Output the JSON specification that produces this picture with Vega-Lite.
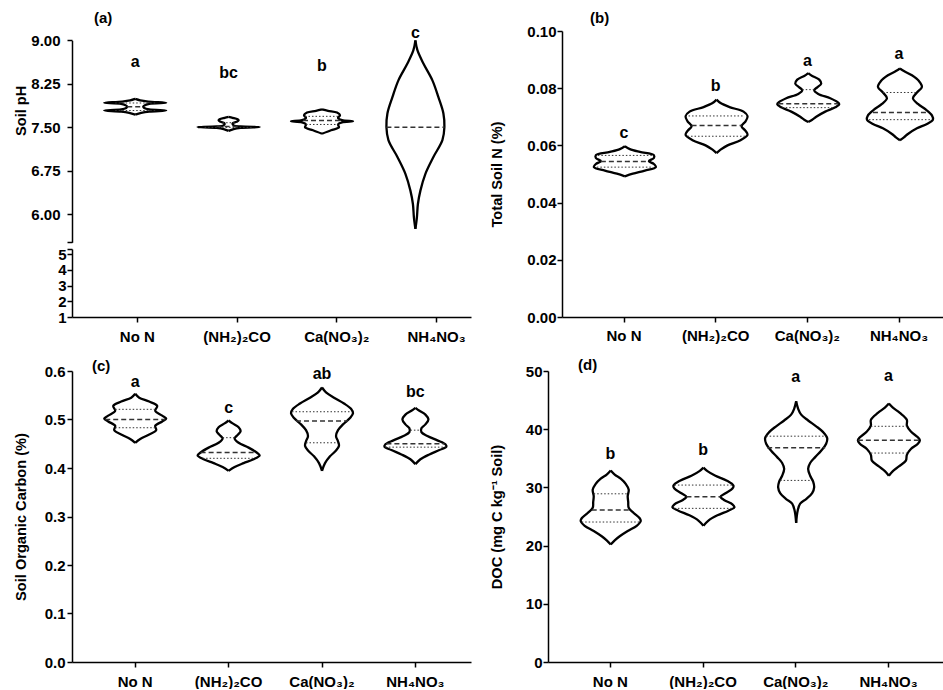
{
"$schema": "https://vega.github.io/schema/vega-lite/v6.json",
"padding": {"left": 13, "top": 10, "right": 0, "bottom": 0},
"background": "white",
"config": {
"view": {"stroke": null},
"font": "Liberation Sans",
"axis": {"labelFont": "Liberation Sans", "labelFontSize": 15, "labelFontWeight": "bold", "labelColor": "black", "titleFont": "Liberation Sans", "titleFontSize": 14.6, "titleFontWeight": "bold", "titleColor": "black", "domainColor": "black", "domainWidth": 1.5, "tickColor": "black", "tickWidth": 1.5, "tickSize": 5, "grid": false, "labelOverlap": false},
"axisX": {"labelAngle": 0, "labelPadding": 6},
"axisY": {"titlePadding": 0, "labelFlush": false},
"title": {"font": "Liberation Sans", "fontSize": 15, "fontWeight": "bold", "color": "black", "anchor": "start", "frame": "group"}
},
"datasets": {
"a": [
{"c":"No N","k":"o","v":7.99,"l":0,"r":0},
{"c":"No N","k":"o","v":7.965,"l":-5,"r":5},
{"c":"No N","k":"o","v":7.945,"l":-13,"r":13},
{"c":"No N","k":"o","v":7.925,"l":-31,"r":31},
{"c":"No N","k":"o","v":7.905,"l":-14,"r":14},
{"c":"No N","k":"o","v":7.875,"l":-9,"r":9},
{"c":"No N","k":"o","v":7.855,"l":-8,"r":8},
{"c":"No N","k":"o","v":7.835,"l":-9,"r":9},
{"c":"No N","k":"o","v":7.81,"l":-14,"r":14},
{"c":"No N","k":"o","v":7.79,"l":-31,"r":31},
{"c":"No N","k":"o","v":7.772,"l":-14,"r":14},
{"c":"No N","k":"o","v":7.75,"l":-6,"r":6},
{"c":"No N","k":"o","v":7.72,"l":0,"r":0},
{"c":"No N","k":"q","v":7.92,"l":-20,"r":20},
{"c":"No N","k":"q","v":7.79,"l":-20,"r":20},
{"c":"No N","k":"m","v":7.855,"l":-8,"r":8},
{"c":"No N","k":"t","v":8.63,"t":"a"},
{"c":"(NH₂)₂CO","k":"o","v":7.68,"l":0,"r":0},
{"c":"(NH₂)₂CO","k":"o","v":7.665,"l":-4,"r":4},
{"c":"(NH₂)₂CO","k":"o","v":7.64,"l":-9,"r":9},
{"c":"(NH₂)₂CO","k":"o","v":7.62,"l":-10,"r":10},
{"c":"(NH₂)₂CO","k":"o","v":7.595,"l":-8,"r":8},
{"c":"(NH₂)₂CO","k":"o","v":7.57,"l":-4,"r":4},
{"c":"(NH₂)₂CO","k":"o","v":7.535,"l":-5,"r":5},
{"c":"(NH₂)₂CO","k":"o","v":7.515,"l":-12,"r":12},
{"c":"(NH₂)₂CO","k":"o","v":7.505,"l":-31,"r":31},
{"c":"(NH₂)₂CO","k":"o","v":7.49,"l":-12,"r":12},
{"c":"(NH₂)₂CO","k":"o","v":7.47,"l":-5,"r":5},
{"c":"(NH₂)₂CO","k":"o","v":7.44,"l":0,"r":0},
{"c":"(NH₂)₂CO","k":"q","v":7.58,"l":-6,"r":6},
{"c":"(NH₂)₂CO","k":"q","v":7.5,"l":-24,"r":24},
{"c":"(NH₂)₂CO","k":"m","v":7.515,"l":-12,"r":12},
{"c":"(NH₂)₂CO","k":"t","v":8.43,"t":"bc"},
{"c":"Ca(NO₃)₂","k":"o","v":7.81,"l":0,"r":0},
{"c":"Ca(NO₃)₂","k":"o","v":7.785,"l":-6,"r":6},
{"c":"Ca(NO₃)₂","k":"o","v":7.755,"l":-15,"r":15},
{"c":"Ca(NO₃)₂","k":"o","v":7.71,"l":-18,"r":18},
{"c":"Ca(NO₃)₂","k":"o","v":7.66,"l":-16,"r":16},
{"c":"Ca(NO₃)₂","k":"o","v":7.625,"l":-20,"r":20},
{"c":"Ca(NO₃)₂","k":"o","v":7.605,"l":-31,"r":31},
{"c":"Ca(NO₃)₂","k":"o","v":7.585,"l":-20,"r":20},
{"c":"Ca(NO₃)₂","k":"o","v":7.55,"l":-16,"r":16},
{"c":"Ca(NO₃)₂","k":"o","v":7.5,"l":-17,"r":17},
{"c":"Ca(NO₃)₂","k":"o","v":7.45,"l":-9,"r":9},
{"c":"Ca(NO₃)₂","k":"o","v":7.39,"l":0,"r":0},
{"c":"Ca(NO₃)₂","k":"q","v":7.69,"l":-17,"r":17},
{"c":"Ca(NO₃)₂","k":"q","v":7.55,"l":-16,"r":16},
{"c":"Ca(NO₃)₂","k":"m","v":7.62,"l":-19,"r":19},
{"c":"Ca(NO₃)₂","k":"t","v":8.55,"t":"b"},
{"c":"NH₄NO₃","k":"o","v":9.0,"l":0,"r":0},
{"c":"NH₄NO₃","k":"o","v":8.83,"l":-2,"r":2},
{"c":"NH₄NO₃","k":"o","v":8.6,"l":-8,"r":8},
{"c":"NH₄NO₃","k":"o","v":8.31,"l":-17,"r":17},
{"c":"NH₄NO₃","k":"o","v":8.02,"l":-23,"r":23},
{"c":"NH₄NO₃","k":"o","v":7.74,"l":-28,"r":28},
{"c":"NH₄NO₃","k":"o","v":7.505,"l":-29,"r":29},
{"c":"NH₄NO₃","k":"o","v":7.28,"l":-27,"r":27},
{"c":"NH₄NO₃","k":"o","v":6.99,"l":-18,"r":18},
{"c":"NH₄NO₃","k":"o","v":6.7,"l":-10,"r":10},
{"c":"NH₄NO₃","k":"o","v":6.41,"l":-5,"r":5},
{"c":"NH₄NO₃","k":"o","v":6.18,"l":-2.5,"r":2.5},
{"c":"NH₄NO₃","k":"o","v":5.95,"l":-1.5,"r":1.5},
{"c":"NH₄NO₃","k":"o","v":5.75,"l":0,"r":0},
{"c":"NH₄NO₃","k":"m","v":7.5,"l":-29,"r":29},
{"c":"NH₄NO₃","k":"t","v":9.13,"t":"c"}
],
"b": [
{"c":"No N","k":"o","v":0.0597,"l":0,"r":0},
{"c":"No N","k":"o","v":0.0587,"l":-5,"r":5},
{"c":"No N","k":"o","v":0.0577,"l":-15,"r":15},
{"c":"No N","k":"o","v":0.0566,"l":-29,"r":29},
{"c":"No N","k":"o","v":0.0556,"l":-29,"r":29},
{"c":"No N","k":"o","v":0.0545,"l":-24,"r":24},
{"c":"No N","k":"o","v":0.0535,"l":-29,"r":29},
{"c":"No N","k":"o","v":0.0524,"l":-31,"r":31},
{"c":"No N","k":"o","v":0.0512,"l":-20,"r":20},
{"c":"No N","k":"o","v":0.0501,"l":-8,"r":8},
{"c":"No N","k":"o","v":0.0492,"l":0,"r":0},
{"c":"No N","k":"q","v":0.0565,"l":-27,"r":27},
{"c":"No N","k":"q","v":0.0524,"l":-28,"r":28},
{"c":"No N","k":"m","v":0.0544,"l":-24,"r":24},
{"c":"No N","k":"t","v":0.0643,"t":"c"},
{"c":"(NH₂)₂CO","k":"o","v":0.076,"l":0,"r":0},
{"c":"(NH₂)₂CO","k":"o","v":0.0748,"l":-4,"r":4},
{"c":"(NH₂)₂CO","k":"o","v":0.0734,"l":-13,"r":13},
{"c":"(NH₂)₂CO","k":"o","v":0.0718,"l":-27,"r":27},
{"c":"(NH₂)₂CO","k":"o","v":0.0702,"l":-31,"r":31},
{"c":"(NH₂)₂CO","k":"o","v":0.0684,"l":-29,"r":29},
{"c":"(NH₂)₂CO","k":"o","v":0.0667,"l":-25,"r":25},
{"c":"(NH₂)₂CO","k":"o","v":0.0651,"l":-29,"r":29},
{"c":"(NH₂)₂CO","k":"o","v":0.0637,"l":-31,"r":31},
{"c":"(NH₂)₂CO","k":"o","v":0.0618,"l":-24,"r":24},
{"c":"(NH₂)₂CO","k":"o","v":0.06,"l":-11,"r":11},
{"c":"(NH₂)₂CO","k":"o","v":0.0585,"l":-4,"r":4},
{"c":"(NH₂)₂CO","k":"o","v":0.0573,"l":0,"r":0},
{"c":"(NH₂)₂CO","k":"q","v":0.0703,"l":-28,"r":28},
{"c":"(NH₂)₂CO","k":"q","v":0.0632,"l":-29,"r":29},
{"c":"(NH₂)₂CO","k":"m","v":0.067,"l":-25,"r":25},
{"c":"(NH₂)₂CO","k":"t","v":0.0807,"t":"b"},
{"c":"Ca(NO₃)₂","k":"o","v":0.0853,"l":0,"r":0},
{"c":"Ca(NO₃)₂","k":"o","v":0.0843,"l":-4,"r":4},
{"c":"Ca(NO₃)₂","k":"o","v":0.083,"l":-11,"r":11},
{"c":"Ca(NO₃)₂","k":"o","v":0.0816,"l":-13,"r":13},
{"c":"Ca(NO₃)₂","k":"o","v":0.0803,"l":-9,"r":9},
{"c":"Ca(NO₃)₂","k":"o","v":0.0793,"l":-6,"r":6},
{"c":"Ca(NO₃)₂","k":"o","v":0.078,"l":-10,"r":10},
{"c":"Ca(NO₃)₂","k":"o","v":0.0765,"l":-22,"r":22},
{"c":"Ca(NO₃)₂","k":"o","v":0.0752,"l":-29,"r":29},
{"c":"Ca(NO₃)₂","k":"o","v":0.0744,"l":-31,"r":31},
{"c":"Ca(NO₃)₂","k":"o","v":0.0733,"l":-27,"r":27},
{"c":"Ca(NO₃)₂","k":"o","v":0.0718,"l":-17,"r":17},
{"c":"Ca(NO₃)₂","k":"o","v":0.07,"l":-8,"r":8},
{"c":"Ca(NO₃)₂","k":"o","v":0.069,"l":-4,"r":4},
{"c":"Ca(NO₃)₂","k":"o","v":0.0682,"l":0,"r":0},
{"c":"Ca(NO₃)₂","k":"q","v":0.0795,"l":-6,"r":6},
{"c":"Ca(NO₃)₂","k":"q","v":0.0732,"l":-26,"r":26},
{"c":"Ca(NO₃)₂","k":"m","v":0.0746,"l":-30,"r":30},
{"c":"Ca(NO₃)₂","k":"t","v":0.0895,"t":"a"},
{"c":"NH₄NO₃","k":"o","v":0.0869,"l":0,"r":0},
{"c":"NH₄NO₃","k":"o","v":0.086,"l":-4,"r":4},
{"c":"NH₄NO₃","k":"o","v":0.0845,"l":-12,"r":12},
{"c":"NH₄NO₃","k":"o","v":0.0825,"l":-19,"r":19},
{"c":"NH₄NO₃","k":"o","v":0.0805,"l":-22,"r":22},
{"c":"NH₄NO₃","k":"o","v":0.0785,"l":-17,"r":17},
{"c":"NH₄NO₃","k":"o","v":0.0765,"l":-13,"r":13},
{"c":"NH₄NO₃","k":"o","v":0.0745,"l":-18,"r":18},
{"c":"NH₄NO₃","k":"o","v":0.0725,"l":-26,"r":26},
{"c":"NH₄NO₃","k":"o","v":0.0705,"l":-32,"r":32},
{"c":"NH₄NO₃","k":"o","v":0.069,"l":-33,"r":33},
{"c":"NH₄NO₃","k":"o","v":0.0675,"l":-27,"r":27},
{"c":"NH₄NO₃","k":"o","v":0.066,"l":-17,"r":17},
{"c":"NH₄NO₃","k":"o","v":0.064,"l":-8,"r":8},
{"c":"NH₄NO₃","k":"o","v":0.0628,"l":-4,"r":4},
{"c":"NH₄NO₃","k":"o","v":0.0618,"l":0,"r":0},
{"c":"NH₄NO₃","k":"q","v":0.0785,"l":-17,"r":17},
{"c":"NH₄NO₃","k":"q","v":0.069,"l":-31,"r":31},
{"c":"NH₄NO₃","k":"m","v":0.0715,"l":-27,"r":27},
{"c":"NH₄NO₃","k":"t","v":0.0921,"t":"a"}
],
"c": [
{"c":"No N","k":"o","v":0.553,"l":0,"r":0},
{"c":"No N","k":"o","v":0.545,"l":-4,"r":4},
{"c":"No N","k":"o","v":0.537,"l":-14,"r":14},
{"c":"No N","k":"o","v":0.528,"l":-22,"r":22},
{"c":"No N","k":"o","v":0.518,"l":-20,"r":20},
{"c":"No N","k":"o","v":0.508,"l":-27,"r":27},
{"c":"No N","k":"o","v":0.502,"l":-31,"r":31},
{"c":"No N","k":"o","v":0.496,"l":-27,"r":27},
{"c":"No N","k":"o","v":0.487,"l":-20,"r":20},
{"c":"No N","k":"o","v":0.478,"l":-21,"r":21},
{"c":"No N","k":"o","v":0.468,"l":-13,"r":13},
{"c":"No N","k":"o","v":0.46,"l":-5,"r":5},
{"c":"No N","k":"o","v":0.452,"l":0,"r":0},
{"c":"No N","k":"q","v":0.521,"l":-20,"r":20},
{"c":"No N","k":"q","v":0.483,"l":-20,"r":20},
{"c":"No N","k":"m","v":0.5,"l":-30,"r":30},
{"c":"No N","k":"t","v":0.578,"t":"a"},
{"c":"(NH₂)₂CO","k":"o","v":0.498,"l":0,"r":0},
{"c":"(NH₂)₂CO","k":"o","v":0.492,"l":-4,"r":4},
{"c":"(NH₂)₂CO","k":"o","v":0.484,"l":-10,"r":10},
{"c":"(NH₂)₂CO","k":"o","v":0.476,"l":-12,"r":12},
{"c":"(NH₂)₂CO","k":"o","v":0.468,"l":-9,"r":9},
{"c":"(NH₂)₂CO","k":"o","v":0.461,"l":-6,"r":6},
{"c":"(NH₂)₂CO","k":"o","v":0.452,"l":-10,"r":10},
{"c":"(NH₂)₂CO","k":"o","v":0.442,"l":-20,"r":20},
{"c":"(NH₂)₂CO","k":"o","v":0.432,"l":-28,"r":28},
{"c":"(NH₂)₂CO","k":"o","v":0.426,"l":-31,"r":31},
{"c":"(NH₂)₂CO","k":"o","v":0.418,"l":-25,"r":25},
{"c":"(NH₂)₂CO","k":"o","v":0.41,"l":-15,"r":15},
{"c":"(NH₂)₂CO","k":"o","v":0.402,"l":-6,"r":6},
{"c":"(NH₂)₂CO","k":"o","v":0.394,"l":0,"r":0},
{"c":"(NH₂)₂CO","k":"q","v":0.4625,"l":-6,"r":6},
{"c":"(NH₂)₂CO","k":"q","v":0.42,"l":-26,"r":26},
{"c":"(NH₂)₂CO","k":"m","v":0.432,"l":-28,"r":28},
{"c":"(NH₂)₂CO","k":"t","v":0.524,"t":"c"},
{"c":"Ca(NO₃)₂","k":"o","v":0.566,"l":0,"r":0},
{"c":"Ca(NO₃)₂","k":"o","v":0.556,"l":-4,"r":4},
{"c":"Ca(NO₃)₂","k":"o","v":0.545,"l":-12,"r":12},
{"c":"Ca(NO₃)₂","k":"o","v":0.533,"l":-22,"r":22},
{"c":"Ca(NO₃)₂","k":"o","v":0.522,"l":-29,"r":29},
{"c":"Ca(NO₃)₂","k":"o","v":0.513,"l":-31,"r":31},
{"c":"Ca(NO₃)₂","k":"o","v":0.503,"l":-28,"r":28},
{"c":"Ca(NO₃)₂","k":"o","v":0.49,"l":-21,"r":21},
{"c":"Ca(NO₃)₂","k":"o","v":0.478,"l":-16,"r":16},
{"c":"Ca(NO₃)₂","k":"o","v":0.466,"l":-14,"r":14},
{"c":"Ca(NO₃)₂","k":"o","v":0.455,"l":-16,"r":16},
{"c":"Ca(NO₃)₂","k":"o","v":0.446,"l":-17,"r":17},
{"c":"Ca(NO₃)₂","k":"o","v":0.436,"l":-14,"r":14},
{"c":"Ca(NO₃)₂","k":"o","v":0.424,"l":-8,"r":8},
{"c":"Ca(NO₃)₂","k":"o","v":0.41,"l":-3,"r":3},
{"c":"Ca(NO₃)₂","k":"o","v":0.394,"l":0,"r":0},
{"c":"Ca(NO₃)₂","k":"q","v":0.516,"l":-30,"r":30},
{"c":"Ca(NO₃)₂","k":"q","v":0.452,"l":-16,"r":16},
{"c":"Ca(NO₃)₂","k":"m","v":0.497,"l":-26,"r":26},
{"c":"Ca(NO₃)₂","k":"t","v":0.594,"t":"ab"},
{"c":"NH₄NO₃","k":"o","v":0.524,"l":0,"r":0},
{"c":"NH₄NO₃","k":"o","v":0.518,"l":-4,"r":4},
{"c":"NH₄NO₃","k":"o","v":0.51,"l":-10,"r":10},
{"c":"NH₄NO₃","k":"o","v":0.5,"l":-13,"r":13},
{"c":"NH₄NO₃","k":"o","v":0.49,"l":-10,"r":10},
{"c":"NH₄NO₃","k":"o","v":0.482,"l":-6,"r":6},
{"c":"NH₄NO₃","k":"o","v":0.474,"l":-6,"r":6},
{"c":"NH₄NO₃","k":"o","v":0.466,"l":-12,"r":12},
{"c":"NH₄NO₃","k":"o","v":0.457,"l":-22,"r":22},
{"c":"NH₄NO₃","k":"o","v":0.449,"l":-30,"r":30},
{"c":"NH₄NO₃","k":"o","v":0.444,"l":-31,"r":31},
{"c":"NH₄NO₃","k":"o","v":0.437,"l":-24,"r":24},
{"c":"NH₄NO₃","k":"o","v":0.428,"l":-14,"r":14},
{"c":"NH₄NO₃","k":"o","v":0.418,"l":-5,"r":5},
{"c":"NH₄NO₃","k":"o","v":0.408,"l":0,"r":0},
{"c":"NH₄NO₃","k":"q","v":0.478,"l":-5,"r":5},
{"c":"NH₄NO₃","k":"q","v":0.443,"l":-30,"r":30},
{"c":"NH₄NO₃","k":"m","v":0.45,"l":-29,"r":29},
{"c":"NH₄NO₃","k":"t","v":0.557,"t":"bc"}
],
"d": [
{"c":"No N","k":"o","v":32.9,"l":0,"r":0},
{"c":"No N","k":"o","v":32.2,"l":-4,"r":4},
{"c":"No N","k":"o","v":31.5,"l":-10,"r":10},
{"c":"No N","k":"o","v":30.6,"l":-15,"r":15},
{"c":"No N","k":"o","v":29.6,"l":-18,"r":18},
{"c":"No N","k":"o","v":28.5,"l":-17,"r":17},
{"c":"No N","k":"o","v":27.5,"l":-17.5,"r":17.5},
{"c":"No N","k":"o","v":26.5,"l":-18,"r":18},
{"c":"No N","k":"o","v":25.6,"l":-23,"r":23},
{"c":"No N","k":"o","v":24.7,"l":-29,"r":29},
{"c":"No N","k":"o","v":24.2,"l":-30,"r":30},
{"c":"No N","k":"o","v":23.4,"l":-26,"r":26},
{"c":"No N","k":"o","v":22.5,"l":-17,"r":17},
{"c":"No N","k":"o","v":21.6,"l":-9,"r":9},
{"c":"No N","k":"o","v":20.9,"l":-4,"r":4},
{"c":"No N","k":"o","v":20.2,"l":0,"r":0},
{"c":"No N","k":"q","v":28.9,"l":-17,"r":17},
{"c":"No N","k":"q","v":24.05,"l":-29,"r":29},
{"c":"No N","k":"m","v":26.1,"l":-19,"r":19},
{"c":"No N","k":"t","v":35.8,"t":"b"},
{"c":"(NH₂)₂CO","k":"o","v":33.4,"l":0,"r":0},
{"c":"(NH₂)₂CO","k":"o","v":32.8,"l":-4,"r":4},
{"c":"(NH₂)₂CO","k":"o","v":32.0,"l":-12,"r":12},
{"c":"(NH₂)₂CO","k":"o","v":31.2,"l":-23,"r":23},
{"c":"(NH₂)₂CO","k":"o","v":30.3,"l":-30,"r":30},
{"c":"(NH₂)₂CO","k":"o","v":29.8,"l":-29,"r":29},
{"c":"(NH₂)₂CO","k":"o","v":29.0,"l":-22,"r":22},
{"c":"(NH₂)₂CO","k":"o","v":28.4,"l":-17,"r":17},
{"c":"(NH₂)₂CO","k":"o","v":27.8,"l":-21,"r":21},
{"c":"(NH₂)₂CO","k":"o","v":27.1,"l":-29,"r":29},
{"c":"(NH₂)₂CO","k":"o","v":26.6,"l":-31,"r":31},
{"c":"(NH₂)₂CO","k":"o","v":26.0,"l":-25,"r":25},
{"c":"(NH₂)₂CO","k":"o","v":25.2,"l":-14,"r":14},
{"c":"(NH₂)₂CO","k":"o","v":24.3,"l":-5,"r":5},
{"c":"(NH₂)₂CO","k":"o","v":23.4,"l":0,"r":0},
{"c":"(NH₂)₂CO","k":"q","v":30.4,"l":-29,"r":29},
{"c":"(NH₂)₂CO","k":"q","v":26.4,"l":-29,"r":29},
{"c":"(NH₂)₂CO","k":"m","v":28.4,"l":-17,"r":17},
{"c":"(NH₂)₂CO","k":"t","v":36.4,"t":"b"},
{"c":"Ca(NO₃)₂","k":"o","v":44.8,"l":0,"r":0},
{"c":"Ca(NO₃)₂","k":"o","v":43.5,"l":-2,"r":2},
{"c":"Ca(NO₃)₂","k":"o","v":42.5,"l":-5,"r":5},
{"c":"Ca(NO₃)₂","k":"o","v":41.5,"l":-12,"r":12},
{"c":"Ca(NO₃)₂","k":"o","v":40.5,"l":-20,"r":20},
{"c":"Ca(NO₃)₂","k":"o","v":39.5,"l":-27,"r":27},
{"c":"Ca(NO₃)₂","k":"o","v":38.5,"l":-31,"r":31},
{"c":"Ca(NO₃)₂","k":"o","v":37.5,"l":-30,"r":30},
{"c":"Ca(NO₃)₂","k":"o","v":36.3,"l":-25,"r":25},
{"c":"Ca(NO₃)₂","k":"o","v":35.2,"l":-19,"r":19},
{"c":"Ca(NO₃)₂","k":"o","v":34.2,"l":-14,"r":14},
{"c":"Ca(NO₃)₂","k":"o","v":33.2,"l":-12,"r":12},
{"c":"Ca(NO₃)₂","k":"o","v":32.0,"l":-14,"r":14},
{"c":"Ca(NO₃)₂","k":"o","v":31.0,"l":-17,"r":17},
{"c":"Ca(NO₃)₂","k":"o","v":30.0,"l":-18,"r":18},
{"c":"Ca(NO₃)₂","k":"o","v":29.0,"l":-16,"r":16},
{"c":"Ca(NO₃)₂","k":"o","v":28.0,"l":-10,"r":10},
{"c":"Ca(NO₃)₂","k":"o","v":27.2,"l":-4,"r":4},
{"c":"Ca(NO₃)₂","k":"o","v":26.0,"l":-1.5,"r":1.5},
{"c":"Ca(NO₃)₂","k":"o","v":23.9,"l":0,"r":0},
{"c":"Ca(NO₃)₂","k":"q","v":38.8,"l":-30,"r":30},
{"c":"Ca(NO₃)₂","k":"q","v":31.2,"l":-16,"r":16},
{"c":"Ca(NO₃)₂","k":"m","v":36.8,"l":-29,"r":29},
{"c":"Ca(NO₃)₂","k":"t","v":49.0,"t":"a"},
{"c":"NH₄NO₃","k":"o","v":44.4,"l":0,"r":0},
{"c":"NH₄NO₃","k":"o","v":43.7,"l":-4,"r":4},
{"c":"NH₄NO₃","k":"o","v":42.8,"l":-11,"r":11},
{"c":"NH₄NO₃","k":"o","v":41.6,"l":-18,"r":18},
{"c":"NH₄NO₃","k":"o","v":40.6,"l":-18,"r":18},
{"c":"NH₄NO₃","k":"o","v":39.6,"l":-22,"r":22},
{"c":"NH₄NO₃","k":"o","v":38.6,"l":-29,"r":29},
{"c":"NH₄NO₃","k":"o","v":38.1,"l":-31,"r":31},
{"c":"NH₄NO₃","k":"o","v":37.5,"l":-29,"r":29},
{"c":"NH₄NO₃","k":"o","v":36.6,"l":-22,"r":22},
{"c":"NH₄NO₃","k":"o","v":35.6,"l":-18,"r":18},
{"c":"NH₄NO₃","k":"o","v":34.6,"l":-17,"r":17},
{"c":"NH₄NO₃","k":"o","v":33.6,"l":-10,"r":10},
{"c":"NH₄NO₃","k":"o","v":32.8,"l":-4,"r":4},
{"c":"NH₄NO₃","k":"o","v":32.0,"l":0,"r":0},
{"c":"NH₄NO₃","k":"q","v":40.5,"l":-18,"r":18},
{"c":"NH₄NO₃","k":"q","v":35.9,"l":-18,"r":18},
{"c":"NH₄NO₃","k":"m","v":38.1,"l":-31,"r":31},
{"c":"NH₄NO₃","k":"t","v":49.1,"t":"a"}
]
},
"spacing": 14,
"vconcat": [
{"hconcat": [
{"vconcat": [
{"data": {"name": "a"}, "width": 399, "height": 211.3,
"title": {"text": "(a)", "dx": 22, "offset": -1},
"encoding": {
"x": {"field": "c", "type": "nominal", "title": null, "scale": {"domain": ["No N","(NH₂)₂CO","Ca(NO₃)₂","NH₄NO₃"], "paddingInner": 0, "paddingOuter": 0.136, "align": 0.65}, "axis": null},
"y": {"field": "v", "type": "quantitative", "scale": {"domain": [5.52, 9], "range": [211.3, 9.3], "nice": false, "zero": false}, "axis": {"values": [5.52, 6, 6.75, 7.5, 8.25, 9], "labelExpr": "datum.value < 5.9 ? '' : format(datum.value, '.2f')", "labelPadding": 7, "title": "Soil pH", "titleY": 79.3, "minExtent": 44, "maxExtent": 44}}
},
"layer": [
{"transform": [{"filter": "datum.k=='o'"}, {"fold": ["l", "r"], "as": ["s", "d"]}], "mark": {"type": "line", "interpolate": "catmull-rom", "stroke": "black", "strokeWidth": 2.3}, "encoding": {"xOffset": {"field": "d", "type": "quantitative", "scale": {"domain": [-46.7, 46.7], "nice": false, "zero": false}}, "detail": [{"field": "c", "type": "nominal"}, {"field": "s", "type": "nominal"}], "order": {"field": "v", "type": "quantitative"}}},
{"transform": [{"filter": "datum.k=='q'"}, {"fold": ["l", "r"], "as": ["s", "d"]}], "mark": {"type": "line", "stroke": "#333", "strokeWidth": 1, "strokeDash": [1.5, 2]}, "encoding": {"xOffset": {"field": "d", "type": "quantitative"}, "detail": [{"field": "c", "type": "nominal"}, {"field": "v", "type": "quantitative"}], "order": {"field": "d", "type": "quantitative"}}},
{"transform": [{"filter": "datum.k=='m'"}, {"fold": ["l", "r"], "as": ["s", "d"]}], "mark": {"type": "line", "stroke": "#333", "strokeWidth": 1.5, "strokeDash": [5, 3]}, "encoding": {"xOffset": {"field": "d", "type": "quantitative"}, "detail": [{"field": "c", "type": "nominal"}], "order": {"field": "d", "type": "quantitative"}}},
{"transform": [{"filter": "datum.k=='t'"}], "mark": {"type": "text", "font": "Liberation Sans", "fontSize": 16, "fontWeight": "bold", "color": "black", "baseline": "middle"}, "encoding": {"text": {"field": "t", "type": "nominal"}}}
]
},
{"data": {"name": "a"}, "transform": [{"filter": "datum.k=='t'"}], "width": 399, "height": 68,
"mark": {"type": "point", "opacity": 0},
"encoding": {
"x": {"field": "c", "type": "nominal", "title": null, "scale": {"domain": ["No N","(NH₂)₂CO","Ca(NO₃)₂","NH₄NO₃"], "paddingInner": 0, "paddingOuter": 0.136, "align": 0.65}, "axis": {"labelPadding": 7}},
"y": {"datum": 1, "type": "quantitative", "scale": {"domain": [1, 5.34], "nice": false, "zero": false}, "axis": {"values": [1, 2, 3, 4, 5, 5.34], "labelExpr": "datum.value > 5.2 ? '' : format(datum.value, 'd')", "labelPadding": 1, "title": null}}
}
}
], "spacing": 6, "bounds": "flush", "align": "each"},
{"data": {"name": "b"}, "width": 386, "height": 286,
"title": {"text": "(b)", "dx": 28, "offset": -1.6},
"encoding": {
"x": {"field": "c", "type": "nominal", "title": null, "scale": {"domain": ["No N","(NH₂)₂CO","Ca(NO₃)₂","NH₄NO₃"], "paddingInner": 0, "paddingOuter": 0.105, "align": 0.84}, "axis": {"labelPadding": 6}},
"y": {"field": "v", "type": "quantitative", "scale": {"domain": [0, 0.1], "nice": false}, "axis": {"values": [0, 0.02, 0.04, 0.06, 0.08, 0.1], "format": ".2f", "labelPadding": 1, "title": "Total Soil N (%)", "minExtent": 58, "maxExtent": 58}}
},
"layer": [
{"transform": [{"filter": "datum.k=='o'"}, {"fold": ["l", "r"], "as": ["s", "d"]}], "mark": {"type": "line", "interpolate": "catmull-rom", "stroke": "black", "strokeWidth": 2.3}, "encoding": {"xOffset": {"field": "d", "type": "quantitative", "scale": {"domain": [-45.85, 45.85], "nice": false, "zero": false}}, "detail": [{"field": "c", "type": "nominal"}, {"field": "s", "type": "nominal"}], "order": {"field": "v", "type": "quantitative"}}},
{"transform": [{"filter": "datum.k=='q'"}, {"fold": ["l", "r"], "as": ["s", "d"]}], "mark": {"type": "line", "stroke": "#333", "strokeWidth": 1, "strokeDash": [1.5, 2]}, "encoding": {"xOffset": {"field": "d", "type": "quantitative"}, "detail": [{"field": "c", "type": "nominal"}, {"field": "v", "type": "quantitative"}], "order": {"field": "d", "type": "quantitative"}}},
{"transform": [{"filter": "datum.k=='m'"}, {"fold": ["l", "r"], "as": ["s", "d"]}], "mark": {"type": "line", "stroke": "#333", "strokeWidth": 1.5, "strokeDash": [5, 3]}, "encoding": {"xOffset": {"field": "d", "type": "quantitative"}, "detail": [{"field": "c", "type": "nominal"}], "order": {"field": "d", "type": "quantitative"}}},
{"transform": [{"filter": "datum.k=='t'"}], "mark": {"type": "text", "font": "Liberation Sans", "fontSize": 16, "fontWeight": "bold", "color": "black", "baseline": "middle"}, "encoding": {"text": {"field": "t", "type": "nominal"}}}
]
}
], "spacing": 18},
{"hconcat": [
{"data": {"name": "c"}, "width": 399, "height": 291,
"title": {"text": "(c)", "dx": 20, "offset": -10},
"encoding": {
"x": {"field": "c", "type": "nominal", "title": null, "scale": {"domain": ["No N","(NH₂)₂CO","Ca(NO₃)₂","NH₄NO₃"], "paddingInner": 0, "paddingOuter": 0.136, "align": 0.65}, "axis": {"labelPadding": 7}},
"y": {"field": "v", "type": "quantitative", "scale": {"domain": [0, 0.6], "nice": false}, "axis": {"values": [0, 0.1, 0.2, 0.3, 0.4, 0.5, 0.6], "format": ".1f", "labelPadding": 2, "title": "Soil Organic Carbon (%)", "minExtent": 43.2, "maxExtent": 43.2}}
},
"layer": [
{"transform": [{"filter": "datum.k=='o'"}, {"fold": ["l", "r"], "as": ["s", "d"]}], "mark": {"type": "line", "interpolate": "catmull-rom", "stroke": "black", "strokeWidth": 2.3}, "encoding": {"xOffset": {"field": "d", "type": "quantitative", "scale": {"domain": [-46.7, 46.7], "nice": false, "zero": false}}, "detail": [{"field": "c", "type": "nominal"}, {"field": "s", "type": "nominal"}], "order": {"field": "v", "type": "quantitative"}}},
{"transform": [{"filter": "datum.k=='q'"}, {"fold": ["l", "r"], "as": ["s", "d"]}], "mark": {"type": "line", "stroke": "#333", "strokeWidth": 1, "strokeDash": [1.5, 2]}, "encoding": {"xOffset": {"field": "d", "type": "quantitative"}, "detail": [{"field": "c", "type": "nominal"}, {"field": "v", "type": "quantitative"}], "order": {"field": "d", "type": "quantitative"}}},
{"transform": [{"filter": "datum.k=='m'"}, {"fold": ["l", "r"], "as": ["s", "d"]}], "mark": {"type": "line", "stroke": "#333", "strokeWidth": 1.5, "strokeDash": [5, 3]}, "encoding": {"xOffset": {"field": "d", "type": "quantitative"}, "detail": [{"field": "c", "type": "nominal"}], "order": {"field": "d", "type": "quantitative"}}},
{"transform": [{"filter": "datum.k=='t'"}], "mark": {"type": "text", "font": "Liberation Sans", "fontSize": 16, "fontWeight": "bold", "color": "black", "baseline": "middle"}, "encoding": {"text": {"field": "t", "type": "nominal"}}}
]
},
{"data": {"name": "d"}, "width": 400, "height": 291,
"title": {"text": "(d)", "dx": 30, "offset": -9},
"encoding": {
"x": {"field": "c", "type": "nominal", "title": null, "scale": {"domain": ["No N","(NH₂)₂CO","Ca(NO₃)₂","NH₄NO₃"], "paddingInner": 0, "paddingOuter": 0.157, "align": 0.55}, "axis": {"labelPadding": 7}},
"y": {"field": "v", "type": "quantitative", "scale": {"domain": [0, 50], "nice": false}, "axis": {"values": [0, 10, 20, 30, 40, 50], "labelPadding": 1, "title": "DOC (mg C kg⁻¹ Soil)", "minExtent": 43.7, "maxExtent": 43.7}}
},
"layer": [
{"transform": [{"filter": "datum.k=='o'"}, {"fold": ["l", "r"], "as": ["s", "d"]}], "mark": {"type": "line", "interpolate": "catmull-rom", "stroke": "black", "strokeWidth": 2.3}, "encoding": {"xOffset": {"field": "d", "type": "quantitative", "scale": {"domain": [-46.4, 46.4], "nice": false, "zero": false}}, "detail": [{"field": "c", "type": "nominal"}, {"field": "s", "type": "nominal"}], "order": {"field": "v", "type": "quantitative"}}},
{"transform": [{"filter": "datum.k=='q'"}, {"fold": ["l", "r"], "as": ["s", "d"]}], "mark": {"type": "line", "stroke": "#333", "strokeWidth": 1, "strokeDash": [1.5, 2]}, "encoding": {"xOffset": {"field": "d", "type": "quantitative"}, "detail": [{"field": "c", "type": "nominal"}, {"field": "v", "type": "quantitative"}], "order": {"field": "d", "type": "quantitative"}}},
{"transform": [{"filter": "datum.k=='m'"}, {"fold": ["l", "r"], "as": ["s", "d"]}], "mark": {"type": "line", "stroke": "#333", "strokeWidth": 1.5, "strokeDash": [5, 3]}, "encoding": {"xOffset": {"field": "d", "type": "quantitative"}, "detail": [{"field": "c", "type": "nominal"}], "order": {"field": "d", "type": "quantitative"}}},
{"transform": [{"filter": "datum.k=='t'"}], "mark": {"type": "text", "font": "Liberation Sans", "fontSize": 16, "fontWeight": "bold", "color": "black", "baseline": "middle"}, "encoding": {"text": {"field": "t", "type": "nominal"}}}
]
}
], "spacing": 18}
]
}
